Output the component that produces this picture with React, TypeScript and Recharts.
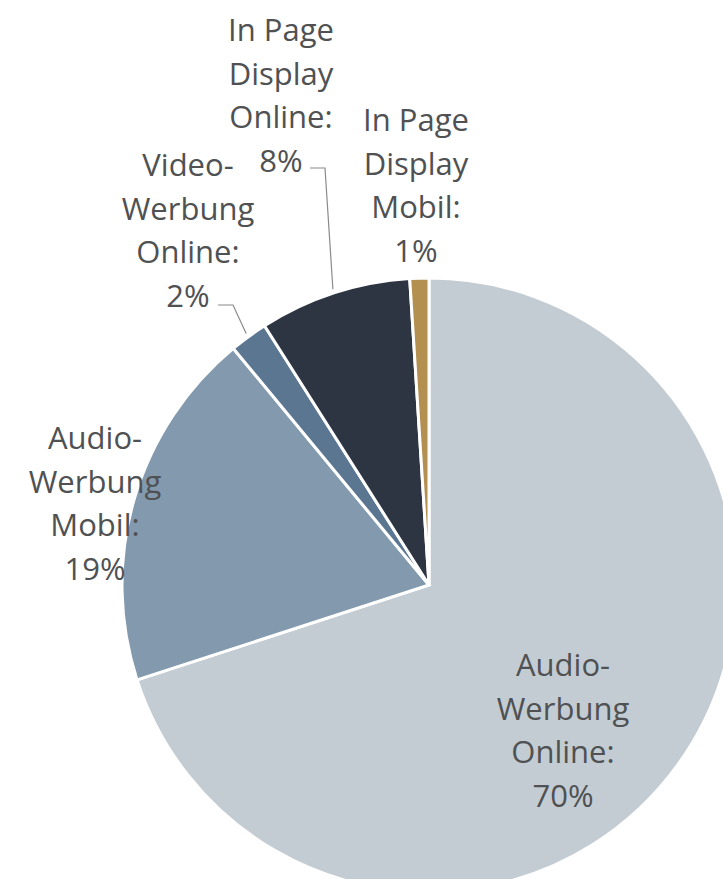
import React from 'react';
import { PieChart, Pie, Cell } from 'recharts';

const categories = [
  'Audio-Werbung Online',
  'Audio-Werbung Mobil',
  'Video-Werbung Online',
  'In Page Display Online',
  'In Page Display Mobil',
];
const shares = [70, 19, 2, 8, 1];
const labelLines = [
  ['Audio-', 'Werbung', 'Online:', '70%'],
  ['Audio-', 'Werbung', 'Mobil:', '19%'],
  ['Video-', 'Werbung', 'Online:', '2%'],
  ['In Page', 'Display', 'Online:', '8%'],
  ['In Page', 'Display', 'Mobil:', '1%'],
];

const COLORS = ['#c4ccd3', '#8399ae', '#5b7691', '#2d3442', '#b38f50'];

// label block placement relative to the pie centre (first line centre)
const LABEL_POS = [
  { dx: 134, dy: 80 },
  { dx: -334, dy: -147 },
  { dx: -241, dy: -420 },
  { dx: -148, dy: -555 },
  { dx: -13, dy: -465 },
];
// short horizontal tick before the leader runs to the slice
const LEADER: Record<number, { x1: number; x2: number; y: number }> = {
  2: { x1: -211, x2: -196, y: -280 },
  3: { x1: -119, x2: -104, y: -417 },
};

const LINE_H = 43.5;
const FONT = 31;
const RAD = Math.PI / 180;

const data = categories.map((name, i) => ({ name, value: shares[i] }));

const renderLabel = (props: any) => {
  const { cx, cy, midAngle, outerRadius, index } = props;
  const pos = LABEL_POS[index];
  const lines = labelLines[index];
  const lead = LEADER[index];
  let path = null;
  if (lead) {
    const r = outerRadius + 4;
    const px = cx + r * Math.cos(-midAngle * RAD);
    const py = cy + r * Math.sin(-midAngle * RAD);
    path = (
      <path
        d={`M${cx + lead.x1},${cy + lead.y} L${cx + lead.x2},${cy + lead.y} L${px},${py}`}
        stroke="#8a8a8a"
        strokeWidth={1.2}
        fill="none"
      />
    );
  }
  return (
    <g key={`lbl-${index}`}>
      {path}
      <text
        x={cx + pos.dx}
        y={cy + pos.dy}
        textAnchor="middle"
        fill="#4f5152"
        fontSize={FONT}
        fontFamily="'Open Sans', sans-serif"
      >
        {lines.map((t, i) => (
          <tspan key={i} x={cx + pos.dx} y={cy + pos.dy + i * LINE_H + FONT * 0.36}>
            {t}
          </tspan>
        ))}
      </text>
    </g>
  );
};

export default function App() {
  return (
    <div style={{ position: 'absolute', left: 0, top: 0, width: 723, height: 879, background: '#fff' }}>
      <style>{`body{margin:0}`}</style>
      <PieChart width={723} height={879}>
        <Pie
          data={data}
          dataKey="value"
          nameKey="name"
          cx={424}
          cy={580}
          outerRadius={307}
          startAngle={90}
          endAngle={-270}
          stroke="#ffffff"
          strokeWidth={3}
          label={renderLabel}
          labelLine={false}
          isAnimationActive={false}
        >
          {data.map((d, i) => (
            <Cell key={d.name} fill={COLORS[i]} />
          ))}
        </Pie>
      </PieChart>
    </div>
  );
}
